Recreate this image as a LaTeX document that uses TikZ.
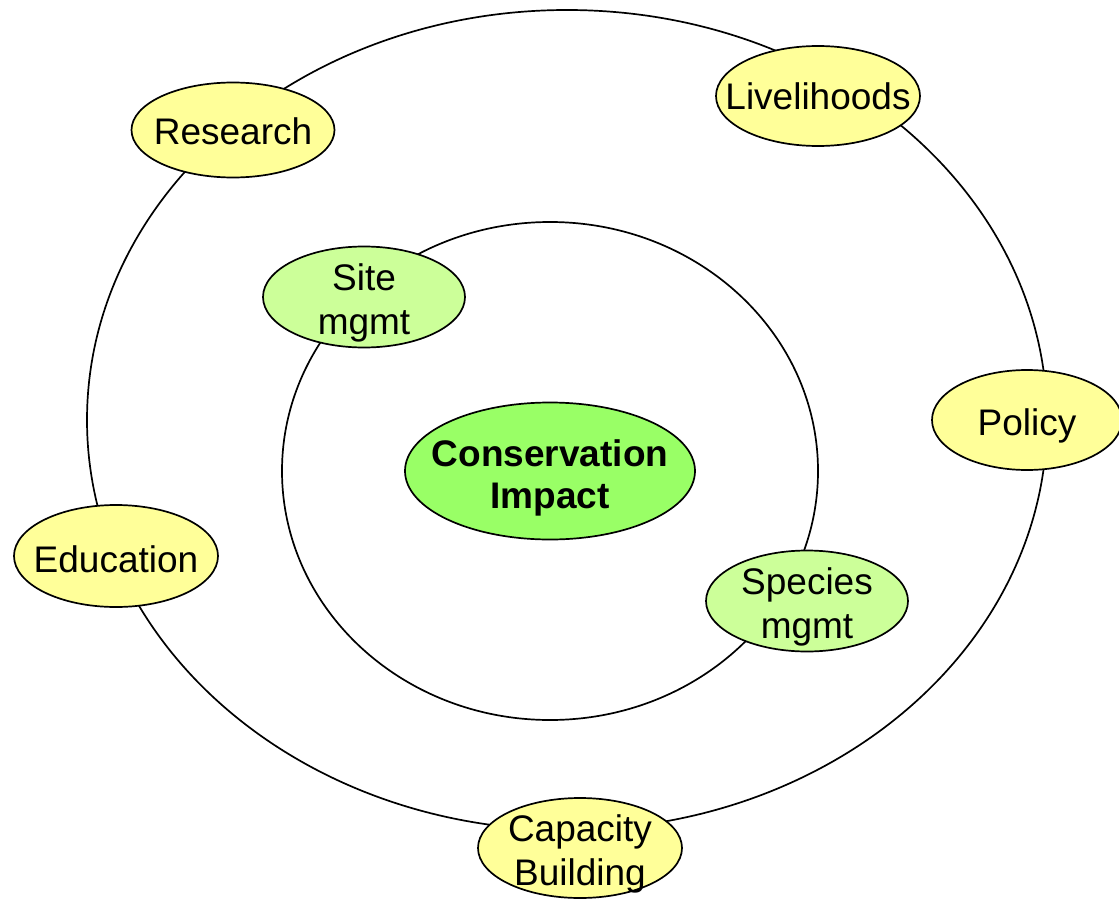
\documentclass[tikz,border=0pt]{standalone}
\usepackage{fontspec}
\setmainfont{Liberation Sans}
\usetikzlibrary{shapes.geometric}
\definecolor{yel}{HTML}{FFFF99}
\definecolor{lgreen}{HTML}{CCFF99}
\definecolor{cgreen}{HTML}{99FF66}
\begin{document}
\begin{tikzpicture}[x=1pt,y=-1pt,
  ring/.style={draw=black,line width=1.7pt},
  bubble/.style={ellipse,draw=black,line width=1.7pt,inner sep=0pt},
  lbl/.style={font=\fontsize{37}{44}\selectfont,align=center,inner sep=0pt}]
\useasboundingbox (0,0) rectangle (1119,899);
\clip (0,0) rectangle (1119,899);
\node[ring,ellipse,minimum width=960pt,minimum height=820pt,inner sep=0pt] (outer) at (567,420) {};
\node[ring,ellipse,minimum width=536pt,minimum height=498pt,inner sep=0pt] (inner) at (550,471) {};
% outer ring nodes
\node[bubble,fill=yel,minimum width=203pt,minimum height=95pt] (res) at (233,130) {};
\node[lbl] at ([yshift=-1pt]res) {Research};
\node[bubble,fill=yel,minimum width=204pt,minimum height=100pt] (liv) at (818,96) {};
\node[lbl] at (liv) {Livelihoods};
\node[bubble,fill=yel,minimum width=190pt,minimum height=100pt] (pol) at (1027,420) {};
\node[lbl] at ([yshift=-6pt]pol) {Policy};
\node[bubble,fill=yel,minimum width=204pt,minimum height=102pt] (edu) at (116,556) {};
\node[lbl] at ([yshift=-3pt]edu) {Education};
\node[bubble,fill=yel,minimum width=204pt,minimum height=100pt] (cap) at (580,848) {};
\node[lbl] at ([yshift=-6pt]cap) {Capacity\\Building};
% inner ring nodes
\node[bubble,fill=lgreen,minimum width=202pt,minimum height=101pt] (site) at (364,297) {};
\node[lbl] at ([yshift=-6pt]site) {Site\\mgmt};
\node[bubble,fill=lgreen,minimum width=202pt,minimum height=101pt] (spec) at (807,601) {};
\node[lbl] at ([yshift=-6pt]spec) {Species\\mgmt};
% centre
\node[bubble,fill=cgreen,minimum width=290pt,minimum height=137pt] (ci) at (550,471) {};
\node[lbl,font=\fontsize{37}{42}\selectfont\bfseries] at ([yshift=-7pt]ci) {Conservation\\Impact};
\end{tikzpicture}
\end{document}
